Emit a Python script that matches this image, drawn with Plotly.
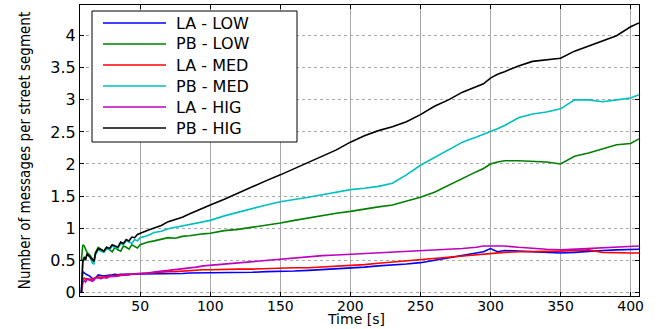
import plotly.graph_objects as go

time_s = [8, 9, 10, 11, 12, 14, 16, 17, 18, 20, 22, 24, 26, 28, 30, 32, 34, 36, 38, 40,
          42, 44, 46, 48, 50, 55, 60, 65, 70, 75, 80, 85, 90, 95, 100, 110, 120, 130, 140, 150,
          160, 170, 180, 190, 200, 210, 220, 230, 240, 250, 260, 270, 280, 290, 295, 300, 305,
          310, 320, 330, 340, 350, 360, 370, 380, 390, 400, 406]

la_low = [0.0, 0.32, 0.3, 0.28, 0.27, 0.25, 0.2, 0.19, 0.22, 0.27, 0.26, 0.25, 0.26, 0.26, 0.27,
          0.28, 0.27, 0.28, 0.28, 0.28, 0.29, 0.28, 0.28, 0.28, 0.28, 0.28, 0.29, 0.28, 0.29, 0.29,
          0.29, 0.3, 0.3, 0.3, 0.3, 0.3, 0.31, 0.31, 0.32, 0.32, 0.33, 0.34, 0.35, 0.36, 0.38, 0.39,
          0.41, 0.42, 0.44, 0.46, 0.5, 0.54, 0.58, 0.61, 0.63, 0.68, 0.63, 0.65, 0.64, 0.63, 0.62,
          0.61, 0.62, 0.64, 0.65, 0.66, 0.66, 0.67]

pb_low = [0.5, 0.74, 0.72, 0.66, 0.62, 0.58, 0.5, 0.48, 0.62, 0.7, 0.67, 0.64, 0.7, 0.66, 0.63,
          0.7, 0.66, 0.64, 0.72, 0.7, 0.67, 0.74, 0.71, 0.69, 0.74, 0.78, 0.8, 0.83, 0.85, 0.84,
          0.87, 0.88, 0.9, 0.91, 0.92, 0.96, 0.98, 1.01, 1.04, 1.08, 1.12, 1.16, 1.2, 1.23, 1.26,
          1.3, 1.33, 1.36, 1.42, 1.48, 1.56, 1.67, 1.78, 1.88, 1.93, 2.0, 2.03, 2.05, 2.05, 2.04,
          2.03, 2.0, 2.12, 2.17, 2.24, 2.3, 2.32, 2.39]

la_med = [0.0, 0.2, 0.22, 0.2, 0.21, 0.2, 0.21, 0.22, 0.23, 0.24, 0.23, 0.24, 0.24, 0.25, 0.25,
          0.26, 0.26, 0.27, 0.27, 0.28, 0.28, 0.28, 0.29, 0.29, 0.29, 0.3, 0.3, 0.31, 0.32, 0.32,
          0.33, 0.34, 0.34, 0.35, 0.35, 0.36, 0.36, 0.36, 0.37, 0.37, 0.38, 0.38, 0.39, 0.4, 0.41,
          0.43, 0.45, 0.47, 0.49, 0.51, 0.53, 0.55, 0.57, 0.59, 0.6, 0.61, 0.61, 0.62, 0.63, 0.63,
          0.63, 0.64, 0.65, 0.66, 0.62, 0.61, 0.61, 0.61]

pb_med = [0.0, 0.5, 0.5, 0.55, 0.58, 0.55, 0.45, 0.44, 0.58, 0.66, 0.64, 0.62, 0.68, 0.66, 0.72,
          0.7, 0.68, 0.76, 0.74, 0.8, 0.78, 0.76, 0.82, 0.8, 0.85, 0.88, 0.93, 0.95, 0.99, 1.01,
          1.04, 1.06, 1.08, 1.1, 1.12, 1.19, 1.25, 1.3, 1.36, 1.41, 1.44, 1.48, 1.52, 1.56, 1.6,
          1.62, 1.65, 1.7, 1.83, 1.98, 2.1, 2.22, 2.34, 2.42, 2.46, 2.5, 2.55, 2.6, 2.72, 2.78,
          2.81, 2.86, 3.0, 3.0, 2.97, 3.0, 3.03, 3.08]

la_hig = [0.0, 0.15, 0.18, 0.16, 0.2, 0.18, 0.17, 0.2, 0.22, 0.22, 0.21, 0.23, 0.22, 0.24, 0.24,
          0.25, 0.25, 0.26, 0.26, 0.27, 0.27, 0.28, 0.28, 0.29, 0.29, 0.3, 0.32, 0.33, 0.34, 0.35,
          0.36, 0.38, 0.39, 0.41, 0.42, 0.44, 0.46, 0.48, 0.5, 0.52, 0.54, 0.56, 0.57, 0.58, 0.59,
          0.6, 0.61, 0.62, 0.63, 0.64, 0.65, 0.67, 0.68, 0.7, 0.72, 0.72, 0.72, 0.72, 0.7, 0.68,
          0.67, 0.66, 0.67, 0.68, 0.7, 0.7, 0.71, 0.72]

pb_hig = [0.0, 0.48, 0.55, 0.5, 0.6, 0.55, 0.5, 0.48, 0.6, 0.68, 0.66, 0.64, 0.7, 0.68, 0.74,
          0.72, 0.7, 0.78, 0.76, 0.82, 0.8, 0.86, 0.85, 0.9, 0.92, 0.96, 1.0, 1.04, 1.1, 1.13,
          1.17, 1.22, 1.27, 1.31, 1.36, 1.45, 1.55, 1.64, 1.74, 1.83, 1.93, 2.03, 2.12, 2.22, 2.34,
          2.44, 2.52, 2.58, 2.66, 2.77, 2.9, 3.0, 3.12, 3.2, 3.25, 3.34, 3.4, 3.44, 3.53, 3.6,
          3.62, 3.65, 3.76, 3.84, 3.91, 4.0, 4.14, 4.2]

series_names = ["LA - LOW", "PB - LOW", "LA - MED", "PB - MED", "LA - HIG", "PB - HIG"]
series_values = [la_low, pb_low, la_med, pb_med, la_hig, pb_hig]
series_colors = ["#0000ff", "#008000", "#ff0000", "#00bfbf", "#bf00bf", "#000000"]

x_ticks = [50, 100, 150, 200, 250, 300, 350, 400]
y_ticks = [0, 0.5, 1, 1.5, 2, 2.5, 3, 3.5, 4]

font_main = "DejaVu Sans, Liberation Sans, Arial, sans-serif"

fig = go.Figure()
for name, vals, col in zip(series_names, series_values, series_colors):
    fig.add_trace(go.Scatter(x=time_s, y=vals, mode="lines", name=name,
                             line=dict(color=col, width=1.6), showlegend=False))

# Framed legend drawn in paper coordinates (box, line samples, labels)
W_PLOT, H_PLOT = 559.0, 291.0
px = lambda v: (v - 80) / W_PLOT
py = lambda v: (296 - v) / H_PLOT
shapes = [dict(type="rect", xref="paper", yref="paper",
               x0=px(92), x1=px(297), y0=py(142), y1=py(11),
               line=dict(color="black", width=1), fillcolor="white", layer="above")]
annotations = []
for i, (name, col) in enumerate(zip(series_names, series_colors)):
    yc = py(23 + i * 21)
    shapes.append(dict(type="line", xref="paper", yref="paper",
                       x0=px(103), x1=px(166), y0=yc, y1=yc,
                       line=dict(color=col, width=1.6), layer="above"))
    annotations.append(dict(text=name, xref="paper", yref="paper", x=px(174), y=yc,
                            xanchor="left", yanchor="middle", showarrow=False,
                            font=dict(family=font_main, size=16, color="black")))

annotations.append(dict(text="Time [s]", xref="paper", yref="paper", x=px(356), y=py(328.5),
                        xanchor="center", yanchor="bottom", showarrow=False,
                        font=dict(family=font_main, size=14, color="black")))

fig.update_layout(
    width=666, height=329,
    margin=dict(l=80, r=27, t=5, b=33),
    paper_bgcolor="white", plot_bgcolor="white",
    font=dict(family=font_main, color="black", size=15),
    showlegend=False,
    shapes=shapes,
    annotations=annotations,
)

fig.update_xaxes(
    range=[7, 406], tickvals=x_ticks, ticks="inside", ticklen=4, tickcolor="black",
    showline=True, linecolor="black", linewidth=1, mirror="ticks",
    showgrid=True, gridcolor="#a8a8a8", gridwidth=1,
    tickfont=dict(family=font_main, size=14), ticklabelstandoff=-3,
    zeroline=False,
)
fig.update_yaxes(
    range=[-0.06, 4.48], tickvals=y_ticks, ticks="inside", ticklen=4, tickcolor="black",
    showline=True, linecolor="black", linewidth=1, mirror="ticks",
    showgrid=True, gridcolor="#a8a8a8", gridwidth=1, griddash="dot",
    tickfont=dict(family=font_main, size=16),
    title=dict(text="Number of messages per street segment",
               font=dict(family="DejaVu Sans Condensed, Liberation Sans Narrow, Liberation Sans, sans-serif", size=15),
               standoff=16),
    zeroline=False,
)

fig.write_html("out.html", config={"displayModeBar": False},
               post_script="document.body.style.margin='0';document.body.style.overflow='hidden';")
